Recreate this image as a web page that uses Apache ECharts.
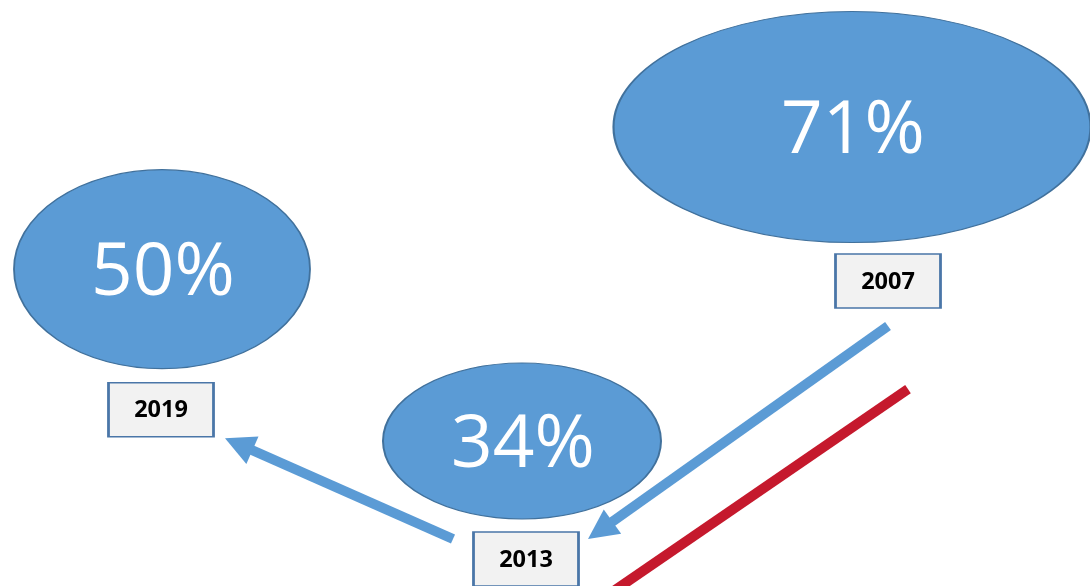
<!DOCTYPE html>
<html><head><meta charset="utf-8">
<script src="https://cdn.jsdelivr.net/npm/echarts@6/dist/echarts.min.js"></script>
<style>html,body{margin:0;padding:0;background:#fff}#c{width:1090px;height:586px}</style>
</head><body><div id="c"></div>
<script>
// ---- data ----
const years = [2007, 2013, 2019];
const shares = [71, 34, 50];
const yearLabels = ['2007', '2013', '2019'];

// ---- styles / layout (not data) ----
const ellipseSize = [[477, 231], [278, 156], [296, 199]];
const ellipseOffset = [[0, 0], [15, 0], [0, -36]];
const boxOffset = [[36, 154], [19, 118], [-1, 104.5]];
const blue = '#5b9bd5', edge = '#41719c', red = '#c5192d';

const chart = echarts.init(document.getElementById('c'));
chart.setOption({
  animation: false,
  backgroundColor: '#ffffff',
  grid: { left: 18.25, right: 36.75, top: 8.2, bottom: 26.2 },
  xAxis: { type: 'value', inverse: true, min: 2003.5, max: 2021.5, show: false },
  yAxis: { type: 'value', min: 20, max: 85, show: false },
  series: [
    {
      type: 'scatter', z: 2,
      data: years.map((y, i) => ({ value: [y, shares[i]], symbolSize: ellipseSize[i], symbolOffset: ellipseOffset[i] })),
      symbol: 'circle',
      itemStyle: { color: blue, borderColor: edge, borderWidth: 1.5, opacity: 1 },
      label: {
        show: true, position: 'inside', color: '#ffffff', offset: [1, 5],
        fontFamily: 'Open Sans', fontSize: 73, fontWeight: 'normal',
        formatter: p => shares[p.dataIndex] + '%'
      },
      emphasis: { disabled: true }
    },
    {
      type: 'scatter', z: 3,
      data: years.map((y, i) => ({ value: [y, shares[i]], symbolOffset: boxOffset[i] })),
      symbol: 'rect', symbolSize: [105, 54],
      itemStyle: { color: '#f2f2f2', borderColor: '#4a76a8', borderWidth: 2, opacity: 1 },
      label: {
        show: true, position: 'inside', color: '#000000', offset: [0, 1],
        fontFamily: 'Open Sans', fontSize: 23.5, fontWeight: 'bold',
        formatter: p => yearLabels[p.dataIndex]
      },
      emphasis: { disabled: true }
    }
  ]
});

function boxCenter(i) {
  const p = chart.convertToPixel({ gridIndex: 0 }, [years[i], shares[i]]);
  return [p[0] + boxOffset[i][0], p[1] + boxOffset[i][1]];
}
function add(a, d) { return [a[0] + d[0], a[1] + d[1]]; }
function arrow(s, t, color) {
  const dx = t[0] - s[0], dy = t[1] - s[1], L = Math.hypot(dx, dy), ux = dx / L, uy = dy / L;
  const hl = 30, hw = 15, bx = t[0] - ux * hl, by = t[1] - uy * hl;
  return [
    { type: 'line', z: 10, shape: { x1: s[0], y1: s[1], x2: bx + ux * 2, y2: by + uy * 2 }, style: { stroke: color, lineWidth: 10, lineCap: 'butt' } },
    { type: 'polygon', z: 10, shape: { points: [[t[0], t[1]], [bx - uy * hw, by + ux * hw], [bx + uy * hw, by - ux * hw]] }, style: { fill: color } }
  ];
}
const b07 = boxCenter(0), b13 = boxCenter(1), b19 = boxCenter(2);
const redStart = add(b07, [20, 108]);
const redEnd = [redStart[0] - 287 * 1.2, redStart[1] + 197 * 1.2];
chart.setOption({
  graphic: [
    ...arrow(add(b07, [0, 45]), add(b13, [62, -20]), blue),
    ...arrow(add(b13, [-73, -20]), add(b19, [64, 28.5]), blue),
    { type: 'line', z: 10, shape: { x1: redStart[0], y1: redStart[1], x2: redEnd[0], y2: redEnd[1] }, style: { stroke: red, lineWidth: 10, lineCap: 'butt' } }
  ]
});
</script>
</body></html>
